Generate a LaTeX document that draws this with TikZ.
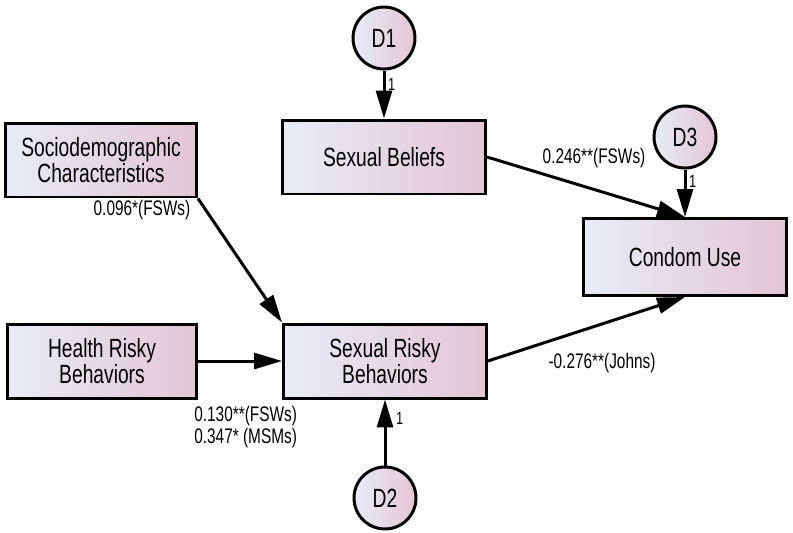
\documentclass[tikz,border=0pt]{standalone}
\usepackage{fontspec}
\setmainfont{Liberation Sans}[FakeStretch=0.73]
\usetikzlibrary{arrows.meta}
\definecolor{boxleft}{RGB}{231,236,247}
\definecolor{boxright}{RGB}{228,197,213}

\begin{document}
\begin{tikzpicture}[x=0.02cm,y=-0.02cm,
        line width=1.7pt,
        >={Triangle[length=0.56cm,width=0.32cm]},
        var node/.style={rectangle,draw,left color=boxleft,right color=boxright,
            minimum width=4.06cm,minimum height=1.48cm,align=center,
            font=\fontsize{15}{15.2}\selectfont},
        err node/.style={circle,draw,left color=boxleft,right color=boxright,
            minimum size=1.24cm,inner sep=0pt,font=\fontsize{15}{15.2}\selectfont},
        coef/.style={font=\fontsize{12}{12.5}\selectfont,align=left},
        one/.style={font=\fontsize{10}{10}\selectfont,inner sep=1.5pt}]

        \useasboundingbox (0,0) rectangle (793,532);

        \node[var node] [minimum width=3.82cm] (sd) at (101,160) {Sociodemographic\\Characteristics};
        \node[var node] [minimum width=3.8cm] (hr) at (102,361) {Health Risky\\Behaviors};
        \node[var node] (sb) at (384,157) {Sexual Beliefs};
        \node[var node] (sr) at (385,361) {Sexual Risky\\Behaviors};
        \node[var node] [minimum height=1.54cm] (cu) at (685,257) {Condom Use};
        \node[err node] (d1) [above of=sb,node distance=2.38cm] {D1};
        \node[err node] (d3) [above of=cu,node distance=2.4cm] {D3};
        \node[err node] (d2) [below of=sr,node distance=2.74cm] {D2};

        \node[coef] (csd) at (142,210) {0.096*(FSWs)};
        \node[coef] (csb) at (594,158) {0.246**(FSWs)};
        \node[coef] (csr) at (602,363) {-0.276**(Johns)};
        \node[coef] [anchor=west] (chr) at (187,427) {0.130**(FSWs)\\0.347* (MSMs)};

        \path[->]
        (d1) edge node[one,right,pos=0.28] {1} (sb)
        (d3) edge node[one,right,pos=0.25] {1} (cu)
        (d2) edge node[one,right,pos=0.72,xshift=4pt] {1} (sr)
        (sd.south east) edge (sr.north west)
        (hr) edge (sr)
        (sb.east) edge (cu.north)
        (sr.east) edge (cu.south)
        ;
    \end{tikzpicture}
\end{document}
